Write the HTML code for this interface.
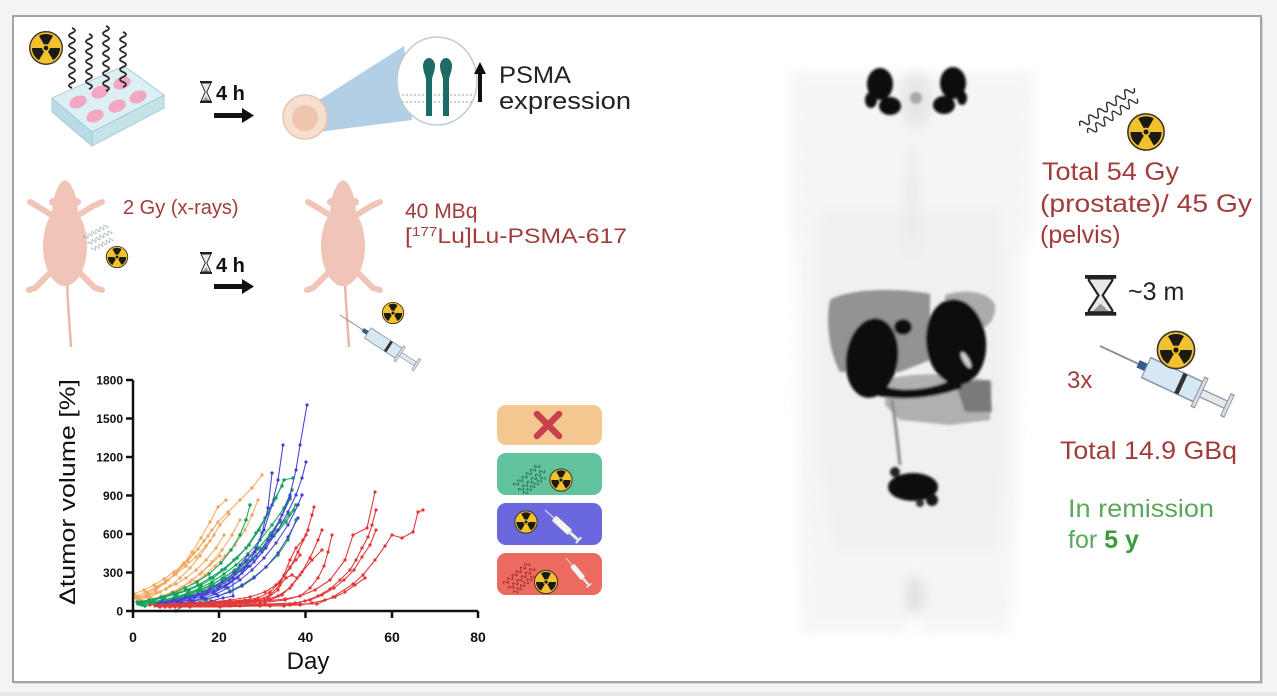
<!DOCTYPE html>
<html><head><meta charset="utf-8"><style>
html,body{margin:0;padding:0;background:#f3f4f6;}
svg{display:block;font-family:"Liberation Sans",sans-serif;}
</style></head><body>
<svg width="1277" height="696" viewBox="0 0 1277 696" xmlns="http://www.w3.org/2000/svg">
<defs>
<g id="rad">
<circle r="9.3" fill="#f2c12e" stroke="#3a3526" stroke-width="0.8"/>
<g fill="#1c1a14">
<path d="M-1.1 -1.905 L-4 -6.93 A8 8 0 0 1 4 -6.93 L1.1 -1.905 A2.2 2.2 0 0 0 -1.1 -1.905Z"/>
<path transform="rotate(120)" d="M-1.1 -1.905 L-4 -6.93 A8 8 0 0 1 4 -6.93 L1.1 -1.905 A2.2 2.2 0 0 0 -1.1 -1.905Z"/>
<path transform="rotate(240)" d="M-1.1 -1.905 L-4 -6.93 A8 8 0 0 1 4 -6.93 L1.1 -1.905 A2.2 2.2 0 0 0 -1.1 -1.905Z"/>
<circle r="1.3"/>
</g>
</g>
<g id="hg">
<rect x="0" y="0" width="12" height="2" fill="#222"/>
<rect x="0" y="20" width="12" height="2" fill="#222"/>
<path d="M1.5 2 L10.5 2 L10.5 3 L6.8 11 L10.5 19 L10.5 20 L1.5 20 L1.5 19 L5.2 11 L1.5 3Z" fill="#e8e8e8" stroke="#222" stroke-width="0.9"/>
<path d="M3 19.5 L6 15.5 L9 19.5Z" fill="#999"/>
</g>
<g id="syr">
<line x1="0" y1="0" x2="28" y2="0" stroke="#8a8f98" stroke-width="0.9"/>
<rect x="28" y="-2" width="6" height="4" fill="#3a5a8a"/>
<rect x="34" y="-5.5" width="38" height="11" fill="#d6e8f4" stroke="#8a9aa8" stroke-width="0.8"/>
<rect x="58" y="-5.5" width="3" height="11" fill="#333"/>
<rect x="72" y="-8" width="2.5" height="16" fill="#d8dce2" stroke="#8a929c" stroke-width="0.6"/>
<rect x="74.5" y="-2" width="18" height="4" fill="#e4e8ee" stroke="#8a929c" stroke-width="0.6"/>
<rect x="92.5" y="-6" width="2.5" height="12" fill="#d8dce2" stroke="#8a929c" stroke-width="0.6"/>
</g>
<g id="syrw">
<line x1="0" y1="0" x2="25" y2="0" stroke="#eee" stroke-width="2"/>
<rect x="25" y="-7" width="45" height="14" rx="3" fill="#f6f6f6" stroke="#bbb" stroke-width="1"/>
<rect x="70" y="-3" width="22" height="6" fill="#f0f0f0" stroke="#bbb" stroke-width="1"/>
<rect x="92" y="-8" width="4" height="16" fill="#f0f0f0" stroke="#bbb" stroke-width="1"/>
</g>
<g id="mouse" fill="#f0c4b6">
<path d="M2 100 C3 130 5 150 6 167" stroke="#e9b7a7" stroke-width="2.5" fill="none"/>
<path d="M-14 92 L-30 108 L-36 110 M14 92 L30 108 L37 110 M-12 36 L-28 26 L-35 22 M12 36 L28 26 L37 22" stroke="#f0c4b6" stroke-width="6" stroke-linecap="round" fill="none"/>
<ellipse cx="0" cy="66" rx="22" ry="40"/>
<path d="M0 0 C6 2 10 12 12 22 L13 32 L-13 32 L-12 22 C-10 12 -6 2 0 0Z"/>
<ellipse cx="-11" cy="22" rx="5" ry="4"/>
<ellipse cx="11" cy="22" rx="5" ry="4"/>
</g>
<path id="wv" d="M0 0 Q2.5 -6 5 0 T10 0 T15 0 T20 0 T25 0 T30 0 T35 0 T40 0 T45 0 T50 0 T55 0 T60 0" fill="none"/>
<marker id="mo" markerWidth="4" markerHeight="4" refX="2" refY="2" markerUnits="userSpaceOnUse"><circle cx="2" cy="2" r="1.6" fill="#f2a45c"/></marker>
<marker id="mg" markerWidth="4" markerHeight="4" refX="2" refY="2" markerUnits="userSpaceOnUse"><circle cx="2" cy="2" r="1.7" fill="#13a058"/></marker>
<marker id="mb" markerWidth="4" markerHeight="4" refX="2" refY="2" markerUnits="userSpaceOnUse"><circle cx="2" cy="2" r="1.6" fill="#4440d2"/></marker>
<marker id="mr" markerWidth="4" markerHeight="4" refX="2" refY="2" markerUnits="userSpaceOnUse"><circle cx="2" cy="2" r="1.6" fill="#e03636"/></marker>
<filter id="bl" x="-10%" y="-10%" width="120%" height="120%"><feGaussianBlur stdDeviation="6"/></filter>
<filter id="bl2" x="-20%" y="-20%" width="140%" height="140%"><feGaussianBlur stdDeviation="1.2"/></filter>
</defs>

<!-- frame -->
<rect x="15" y="18" width="1248" height="666" fill="#d6d7d9"/>
<rect x="13" y="16" width="1248" height="666" fill="#ffffff" stroke="#a4a4a4" stroke-width="2"/>
<rect x="0" y="692" width="1277" height="4" fill="#e7e8ea"/>

<!-- top-left: plate -->
<polygon points="52,98 92,132 92,146 52,112" fill="#b9dbe3" stroke="#9cc6d0" stroke-width="0.8"/>
<polygon points="92,132 164,95 164,108 92,146" fill="#c6e3ea" stroke="#9cc6d0" stroke-width="0.8"/>
<polygon points="52,98 124,66 164,95 92,132" fill="#dcf0f4" stroke="#9cc6d0" stroke-width="0.8"/>
<g fill="#f2a8c2">
<ellipse cx="78" cy="102" rx="9" ry="6" transform="rotate(-22 78 102)"/>
<ellipse cx="100" cy="92" rx="9" ry="6" transform="rotate(-22 100 92)"/>
<ellipse cx="122" cy="83" rx="9" ry="6" transform="rotate(-22 122 83)"/>
<ellipse cx="95" cy="116" rx="9" ry="6" transform="rotate(-22 95 116)"/>
<ellipse cx="117" cy="106" rx="9" ry="6" transform="rotate(-22 117 106)"/>
<ellipse cx="138" cy="97" rx="9" ry="6" transform="rotate(-22 138 97)"/>
</g>
<g stroke="#2a2a2a" stroke-width="1.8" fill="none">
<path d="M72 28 Q78 30.5 72 33 T72 38 T72 43 T72 48 T72 53 T72 58 T72 63 T72 68 T72 73 T72 78 T72 83 T72 88"/>
<path d="M89 34 Q95 36.5 89 39 T89 44 T89 49 T89 54 T89 59 T89 64 T89 69 T89 74 T89 79 T89 84 T89 89"/>
<path d="M106 26 Q112 28.5 106 31 T106 36 T106 41 T106 46 T106 51 T106 56 T106 61 T106 66 T106 71 T106 76 T106 81 T106 86 T106 91"/>
<path d="M123 32 Q129 34.5 123 37 T123 42 T123 47 T123 52 T123 57 T123 62 T123 67 T123 72 T123 77 T123 82 T123 87"/>
</g>
<use href="#rad" transform="translate(46 48) scale(1.75)"/>

<use href="#hg" transform="translate(200 81)"/>
<text x="216" y="100" font-size="20" font-weight="bold" fill="#111">4 h</text>
<path d="M214 113 L242 113 L242 108 L254 115.5 L242 123 L242 118 L214 118Z" fill="#111"/>

<!-- cell + cone + circle -->
<polygon points="316,102 318,132 412,120 404,46" fill="#b2cfe5"/>
<circle cx="305" cy="117" r="22" fill="#f7dfcf" stroke="#e9c6b2" stroke-width="1.5"/>
<circle cx="305" cy="118" r="13" fill="#edbea6" opacity="0.8"/>
<ellipse cx="437" cy="81" rx="40" ry="44" fill="#ffffff" stroke="#c2cad2" stroke-width="1.5"/>
<g stroke="#9fbcc4" stroke-width="1.2" stroke-dasharray="2 2">
<line x1="402" y1="95" x2="472" y2="95"/><line x1="402" y1="102" x2="472" y2="102"/>
</g>
<g fill="#1d6b67">
<path d="M423 66 A6 8 0 0 1 435 66 C435 72 432 76 432 80 L432 116 L426 116 L426 80 C426 76 423 72 423 66Z"/>
<path d="M440 66 A6 8 0 0 1 452 66 C452 72 449 76 449 80 L449 116 L443 116 L443 80 C443 76 440 72 440 66Z"/>
</g>
<path d="M478 74 L474 74 L480 62 L486 74 L482 74 L482 102 L478 102Z" fill="#111"/>
<text x="499" y="83" font-size="24" fill="#222" textLength="72" lengthAdjust="spacingAndGlyphs">PSMA</text>
<text x="499" y="109" font-size="24" fill="#222" textLength="132" lengthAdjust="spacingAndGlyphs">expression</text>

<!-- row 2: mice -->
<use href="#mouse" transform="translate(65 180)"/>
<use href="#mouse" transform="translate(343 180)"/>
<g stroke="#8aa0a8" stroke-width="1.3" fill="none">
<use href="#wv" transform="translate(84 238) rotate(-28) scale(0.45 0.6)"/>
<use href="#wv" transform="translate(88 244) rotate(-28) scale(0.45 0.6)"/>
<use href="#wv" transform="translate(92 250) rotate(-28) scale(0.4 0.6)"/>
</g>
<use href="#rad" transform="translate(117 257) scale(1.15)"/>
<text x="123" y="214" font-size="20" fill="#a23c3c">2 Gy (x-rays)</text>
<use href="#hg" transform="translate(200 252)"/>
<text x="216" y="272" font-size="20" font-weight="bold" fill="#111">4 h</text>
<path d="M214 284 L242 284 L242 279 L254 286.5 L242 294 L242 289 L214 289Z" fill="#111"/>
<use href="#syr" transform="translate(340 315) rotate(33) scale(0.97 1.1)"/>
<use href="#rad" transform="translate(393 313) scale(1.15)"/>
<text x="405" y="218" font-size="21" fill="#a23c3c">40 MBq</text>
<text x="405" y="243" font-size="21" fill="#a23c3c" textLength="222" lengthAdjust="spacingAndGlyphs">[<tspan font-size="13" dy="-7">177</tspan><tspan dy="7">Lu]Lu-PSMA-617</tspan></text>

<!-- chart series -->
<g fill="none" stroke-width="1.1" stroke-linejoin="round">
<g stroke="#f4ae68" marker-start="url(#mo)" marker-mid="url(#mo)" marker-end="url(#mo)">
<polyline points="138,599 147,596 156,590 165,583 174,575 183,565 192,552 201,538 210,522 218,507 226,500"/>
<polyline points="140,600 150,597 160,592 170,586 180,578 190,568 200,556 210,541 220,525 229,514"/>
<polyline points="138,597 148,593 158,587 168,580 178,571 188,561 198,549 208,536 218,522 228,512 240,500 252,488 262,475"/>
<polyline points="142,601 152,599 162,596 172,592 182,587 192,580 202,572 212,562 222,550 232,535 240,520"/>
<polyline points="136,598 146,596 156,593 166,589 176,584 186,578 196,570 206,560 216,548 224,535"/>
<polyline points="140,603 150,601 160,598 170,594 180,589 190,582 200,574 210,565 220,556"/>
<polyline points="136,596 146,592 156,587 166,581 176,574 186,566 196,557 206,546 214,535"/>
<polyline points="145,602 155,600 165,597 175,593 185,588 195,582 205,575 215,566 225,556 235,545 245,530 252,515 258,500"/>
<polyline points="134,594 144,590 154,585 164,579 174,572 184,563 194,553 204,541 212,530"/>
</g>
<g stroke="#1ea862" marker-start="url(#mg)" marker-mid="url(#mg)" marker-end="url(#mg)">
<polyline points="138,603 150,601 162,598 174,594 186,590 198,585 210,578 222,570 234,560 246,548 256,533 265,518 274,500 282,486"/>
<polyline points="140,604 152,602 164,600 176,597 188,593 200,588 212,582 224,574 236,565 248,554 260,540 272,525 284,508 292,490"/>
<polyline points="137,602 149,600 161,597 173,593 185,588 197,582 209,574 221,563 231,550 240,535 246,520 250,505"/>
<polyline points="142,605 154,603 166,601 178,598 190,595 202,591 214,586 226,579 238,571 250,561 262,549 274,536 286,522 294,510"/>
<polyline points="139,603 151,602 163,600 175,597 187,594 199,590 211,585 223,578 235,570 247,560 259,548 271,533 280,520 290,499"/>
<polyline points="145,606 157,604 169,602 181,599 193,596 205,592 217,586 229,579 241,570 253,559 265,546 277,531 289,515 296,505"/>
<polyline points="138,604 150,603 162,601 174,598 186,595 198,591 210,586 222,579 234,571 246,561 258,549 270,535 280,522"/>
<polyline points="141,602 153,600 165,597 177,594 189,590 201,585 213,578 225,569 237,558 249,545 259,530 268,514 276,498 284,480 293,478"/>
<polyline points="176,611 182,606 194,603 206,600 218,596 230,591 242,585 254,577 266,567 278,555 288,540 296,520"/>
</g>
<g stroke="#4b48d8" marker-start="url(#mb)" marker-mid="url(#mb)" marker-end="url(#mb)">
<polyline points="160,603 172,601 184,599 196,596 208,592 220,586 232,578 244,568 256,556 268,540 280,520 290,495 296,470 300,445 307,405"/>
<polyline points="158,604 170,602 182,600 194,597 206,594 218,589 230,582 242,573 254,562 266,548 278,530 288,512 296,495 302,478 306,462"/>
<polyline points="162,602 174,600 186,597 198,594 210,589 222,582 234,573 246,562 256,548 264,530 272,505 278,480 283,445"/>
<polyline points="165,604 177,602 189,600 201,597 213,593 225,587 237,578 247,566 255,552 262,533 268,508 272,473"/>
<polyline points="168,605 180,603 192,601 204,598 216,594 228,588 240,580 252,570 264,558 276,543 288,525 298,505 302,495"/>
<polyline points="170,604 182,603 194,601 206,599 218,596 230,592 242,586 254,578 266,567 278,553 288,537 298,518"/>
<polyline points="175,606 187,605 199,603 211,601 223,598 233,596 233,578 240,565 248,555"/>
<polyline points="166,603 178,601 190,598 202,595 214,591 226,585 238,577 250,566 262,552 272,536 282,515 290,497"/>
</g>
<g stroke="#e23a3a" marker-start="url(#mr)" marker-mid="url(#mr)" marker-end="url(#mr)">
<polyline points="155,606 170,605 185,604 200,603 215,602 230,601 245,600 258,598 270,592 280,582 290,568 298,552 306,535 312,515 314,507"/>
<polyline points="160,607 175,606 190,605 205,604 220,603 235,602 250,601 265,600 278,596 290,588 300,575 310,558 318,540 322,530"/>
<polyline points="165,607 180,606 195,605 210,604 225,604 240,603 255,602 270,600 282,595 292,585 302,572 312,560 322,550"/>
<polyline points="165,606 185,605 205,604 225,603 245,602 265,601 285,599 300,596 315,590 330,580 345,560 353,535 367,528 375,492"/>
<polyline points="170,607 200,606 230,605 260,605 290,604 317,604 333,597 353,584 363,575 375,560 385,546 392,535 402,538 413,532 418,512 423,510"/>
<polyline points="175,607 205,606 235,605 265,604 295,603 310,600 322,595 334,588 344,580 354,570 362,557 370,545 376,530"/>
<polyline points="160,605 180,604 200,603 220,602 240,601 255,600 268,598 278,590 284,575 290,560 296,548 303,540 308,530"/>
<polyline points="150,605 170,604 190,603 210,602 230,600 250,597 265,592 276,585 284,576 290,567 296,560 300,555"/>
<polyline points="158,606 178,605 198,604 218,603 238,602 258,600 270,595 280,585 286,578 292,575 297,578"/>
<polyline points="170,606 200,605 230,604 260,603 285,600 300,596 310,588 318,578 324,566 328,552 332,535"/>
<polyline points="180,607 210,606 240,606 270,605 290,604 305,601 318,596 330,589 340,580 350,570 356,560 362,548 368,537 372,525 376,510"/>
<polyline points="180,607 220,607 260,606 284,606 290,605 300,604"/>
<polyline points="190,607 230,606 270,606 300,605 312,603 325,600 335,597 345,592 355,585 365,578"/>
</g>
</g>

<!-- axes -->
<g stroke="#111" stroke-width="2.5" fill="none">
<path d="M133 380 L133 611 L478 611"/>
<path d="M126 380 H133 M126 418.5 H133 M126 457 H133 M126 495.5 H133 M126 534 H133 M126 572.5 H133 M126 611 H133"/>
<path d="M133 611 V618 M219 611 V618 M305.5 611 V618 M392 611 V618 M478 611 V618"/>
</g>
<g font-size="12" font-weight="bold" fill="#111" text-anchor="end">
<text x="123" y="384.5">1800</text>
<text x="123" y="423">1500</text>
<text x="123" y="461.5">1200</text>
<text x="123" y="500">900</text>
<text x="123" y="538.5">600</text>
<text x="123" y="577">300</text>
<text x="123" y="615.5">0</text>
</g>
<g font-size="14" font-weight="bold" fill="#111" text-anchor="middle">
<text x="133" y="642">0</text>
<text x="219" y="642">20</text>
<text x="305.5" y="642">40</text>
<text x="392" y="642">60</text>
<text x="478" y="642">80</text>
</g>
<text x="308" y="669" font-size="24" fill="#111" text-anchor="middle">Day</text>
<text transform="translate(75 492) rotate(-90)" font-size="22" fill="#111" text-anchor="middle" textLength="226" lengthAdjust="spacingAndGlyphs">Δtumor volume [%]</text>

<!-- legend boxes -->
<rect x="497" y="405" width="105" height="40" rx="9" fill="#f4c690"/>
<rect x="497" y="453" width="105" height="42" rx="9" fill="#60c39e"/>
<rect x="497" y="503" width="105" height="42" rx="9" fill="#6b68dd"/>
<rect x="497" y="553" width="105" height="42" rx="9" fill="#ec6a5f"/>
<path d="M537 414 L559 436 M559 414 L537 436" stroke="#c8414a" stroke-width="6.5" stroke-linecap="round"/>
<g stroke="#23604a" stroke-width="1.3" fill="none">
<use href="#wv" transform="translate(514 486) rotate(-40) scale(0.55 0.7)"/>
<use href="#wv" transform="translate(519 491) rotate(-40) scale(0.55 0.7)"/>
<use href="#wv" transform="translate(524 494) rotate(-40) scale(0.45 0.7)"/>
</g>
<use href="#rad" transform="translate(561 480) scale(1.2)"/>
<use href="#rad" transform="translate(526 522) scale(1.2)"/>
<use href="#syrw" transform="translate(545 510) rotate(42) scale(0.48)"/>
<g stroke="#8c1f24" stroke-width="1.3" fill="none">
<use href="#wv" transform="translate(504 584) rotate(-40) scale(0.55 0.7)"/>
<use href="#wv" transform="translate(509 589) rotate(-40) scale(0.55 0.7)"/>
<use href="#wv" transform="translate(514 593) rotate(-40) scale(0.45 0.7)"/>
</g>
<use href="#rad" transform="translate(546 582) scale(1.25)"/>
<use href="#syrw" transform="translate(566 558) rotate(50) scale(0.38)"/>

<!-- scan -->
<g filter="url(#bl)">
<path d="M790 72 L1034 72 L1032 232 L1020 262 L1018 470 L1010 632 L922 632 L915 560 L908 632 L802 632 L798 470 L797 262 L792 232Z" fill="#f5f5f5"/>
<path d="M820 210 L1000 210 L1005 460 L995 550 L835 550 L820 460Z" fill="#f0f0f0"/>
<ellipse cx="916" cy="100" rx="16" ry="28" fill="#e6e6e6"/>
<ellipse cx="915" cy="595" rx="10" ry="20" fill="#e2e2e2"/>
<ellipse cx="912" cy="200" rx="6" ry="55" fill="#eaeaea"/>
</g>
<g filter="url(#bl2)">
<path d="M830 300 C850 288 900 288 930 294 L930 360 L900 372 L840 372 C828 350 826 320 830 300Z" fill="#939393"/>
<path d="M945 295 C965 288 990 292 995 305 C996 322 985 332 965 332 L945 330Z" fill="#ababab"/>
<path d="M885 380 C910 372 960 372 992 382 L990 420 L950 425 L900 420 L885 405Z" fill="#b0b0b0"/>
<path d="M955 382 L990 380 L992 412 L965 412Z" fill="#7a7a7a"/>
<path d="M892 400 C895 420 898 445 900 465" stroke="#8a8a8a" stroke-width="3" fill="none"/>
<ellipse cx="872" cy="358" rx="26" ry="40" fill="#0a0a0a" transform="rotate(8 872 358)"/>
<ellipse cx="903" cy="327" rx="9" ry="8" fill="#0a0a0a"/>
<ellipse cx="956" cy="342" rx="30" ry="43" fill="#0a0a0a" transform="rotate(-6 956 342)"/>
<path d="M868 378 C890 395 930 392 960 376 L962 388 C930 400 890 402 866 392Z" fill="#0a0a0a"/>
<ellipse cx="966" cy="360" rx="3" ry="9" fill="#cfcfcf" transform="rotate(-30 966 360)"/>
<ellipse cx="913" cy="487" rx="25" ry="14" fill="#0a0a0a"/>
<circle cx="895" cy="472" r="5" fill="#202020"/>
<circle cx="932" cy="500" r="6" fill="#151515"/>
<circle cx="920" cy="503" r="4" fill="#303030"/>
<ellipse cx="880" cy="84" rx="13" ry="16" fill="#0a0a0a"/>
<ellipse cx="890" cy="106" rx="11" ry="9" fill="#0a0a0a"/>
<ellipse cx="871" cy="100" rx="6" ry="8" fill="#0a0a0a"/>
<ellipse cx="953" cy="83" rx="13" ry="16" fill="#0a0a0a"/>
<ellipse cx="944" cy="105" rx="11" ry="9" fill="#0a0a0a"/>
<ellipse cx="962" cy="98" rx="5" ry="7" fill="#0a0a0a"/>
<ellipse cx="916" cy="98" rx="6" ry="6" fill="#a8a8a8"/>
</g>

<!-- right side -->
<g stroke="#333" stroke-width="1.3" fill="none">
<use href="#wv" transform="translate(1080 126) rotate(-35) scale(1.1 1.2)"/>
<use href="#wv" transform="translate(1088 133) rotate(-35) scale(1.0 1.2)"/>
</g>
<use href="#rad" transform="translate(1146 132) scale(1.95)"/>
<g font-size="25" fill="#a23c3c">
<text x="1042" y="180" textLength="137" lengthAdjust="spacingAndGlyphs">Total 54 Gy</text>
<text x="1040" y="212" textLength="212" lengthAdjust="spacingAndGlyphs">(prostate)/ 45 Gy</text>
<text x="1040" y="243">(pelvis)</text>
<text x="1067" y="388" font-size="24">3x</text>
<text x="1060" y="459" textLength="177" lengthAdjust="spacingAndGlyphs">Total 14.9 GBq</text>
</g>
<use href="#hg" transform="translate(1085 275) scale(2.6 1.85)"/>
<text x="1128" y="300" font-size="25" fill="#222">~3 m</text>
<use href="#syr" transform="translate(1100 346) rotate(25) scale(1.5 2)"/>
<use href="#rad" transform="translate(1176 350) scale(2)"/>
<text x="1068" y="517" font-size="25" fill="#5aa85a" textLength="146" lengthAdjust="spacingAndGlyphs">In remission</text>
<text x="1068" y="548" font-size="25" fill="#5aa85a">for <tspan font-weight="bold" fill="#3f9a3f">5 y</tspan></text>
</svg>
</body></html>
